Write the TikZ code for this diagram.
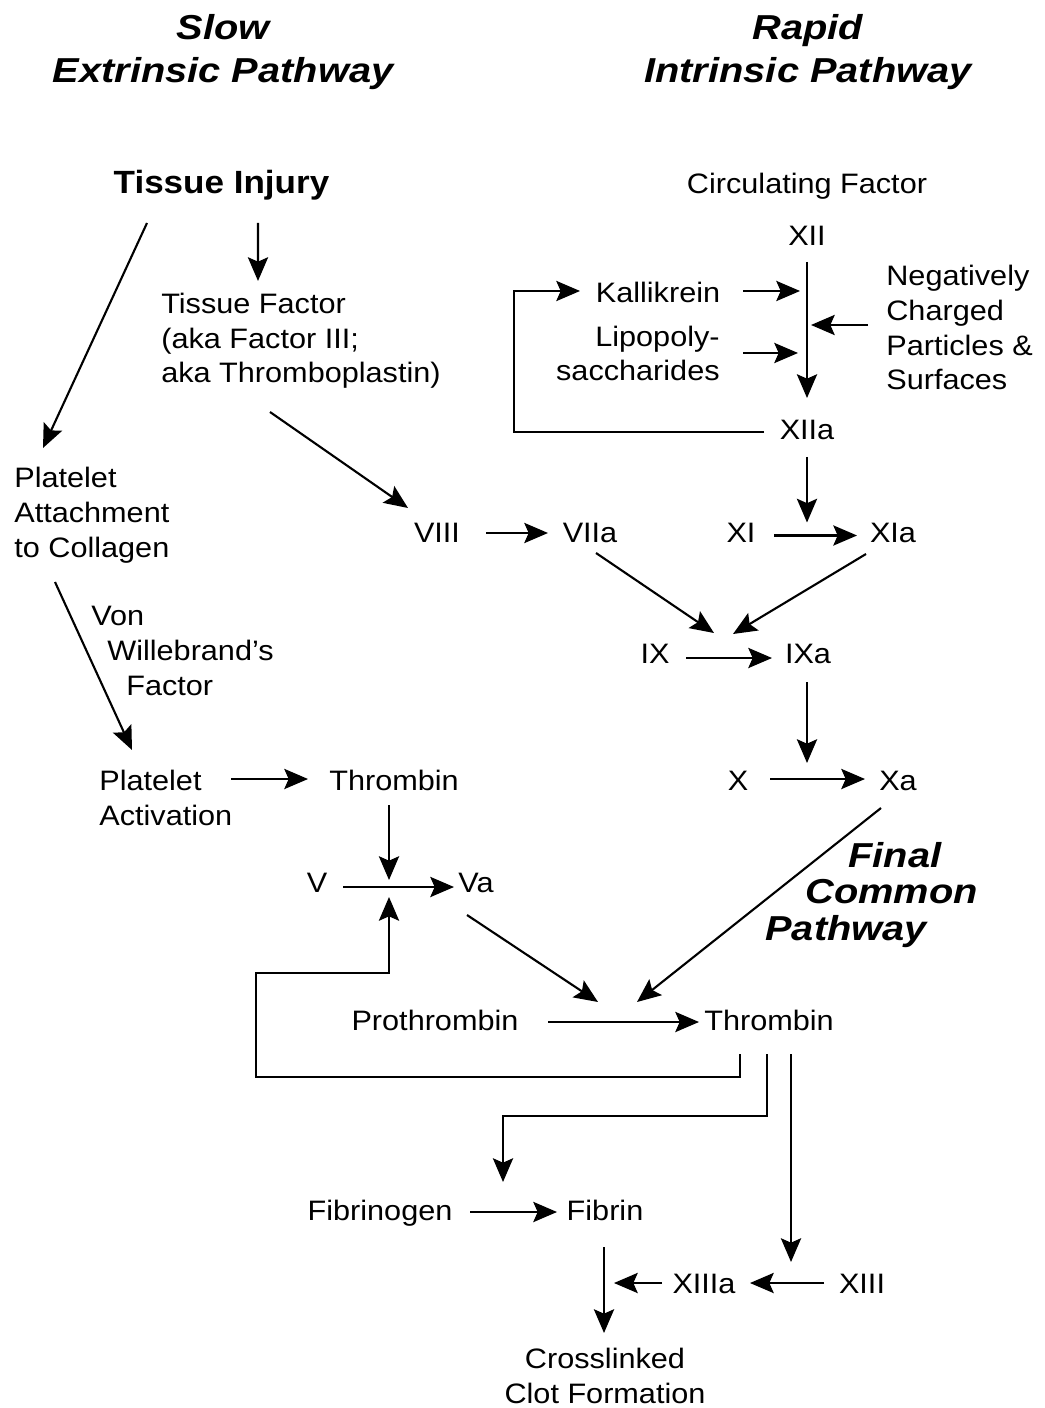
\documentclass[tikz,border=0pt]{standalone}
\usepackage{fontspec}
\setmainfont{Liberation Sans}[FakeStretch=1.09]
\newfontfamily\ttlfam{Liberation Sans}[FakeStretch=1.15]
\usetikzlibrary{arrows.meta}
\usetikzlibrary{calc}

\begin{document}
\begin{tikzpicture}
	[x=0.02cm, y=-0.02cm,
	txt/.style={inner sep=0pt, font=\fontsize{16}{19.85}\selectfont},
	lbl/.style={txt, text height=11.5pt, text depth=0pt},
	blk/.style={txt, align=left, anchor=base west},
	ttl/.style={inner sep=0pt, align=center, anchor=base, font=\ttlfam\bfseries\itshape\fontsize{19.7}{25}\selectfont},
	arr/.style={-{Stealth[length=13.5pt, width=11.5pt, inset=2.5pt]}, line width=1.2pt}]

	\useasboundingbox (0,0) rectangle (1044,1408);

	%Titles (base = last line)
	\node[ttl] (slow) at (223,83) {Slow\\Extrinsic Pathway};
	\node[ttl] (rapid) at (808,83) {Rapid\\Intrinsic Pathway};

	%Extrinsic
	\node[lbl, text height=13.1pt, font=\bfseries\fontsize{18.3}{22}\selectfont] (inj) at (221.5,181.5) {Tissue Injury};
	\node[blk] (tf) at (161,383) {Tissue Factor\\(aka Factor III;\\aka Thromboplastin)};
	\node[blk] (pac) at (14,557) {Platelet\\Attachment\\to Collagen};
	\node[blk] (vwf) at (91,695) {Von\\\hspace*{0.32cm}Willebrand’s\\\hspace*{0.7cm}Factor};
	\node[blk] (pact) at (99,825) {Platelet\\Activation};
	\node[lbl] (thr) at (394,780) {Thrombin};
	\node[lbl] (fv) at (317,882) {V};
	\node[lbl] (fva) at (476,882) {Va};

	%Intrinsic
	\node[lbl] (circ) at (807,183) {Circulating Factor};
	\node[lbl] (xii) at (807,235.5) {XII};
	\node[lbl] (kal) at (658,292) {Kallikrein};
	\node[blk, align=right, anchor=base east] (lps) at (720,381) {Lipopoly-\\saccharides};
	\node[blk] (neg) at (886,390) {Negatively\\Charged\\Particles \&\\Surfaces};
	\node[lbl] (xiia) at (807,429) {XIIa};
	\node[lbl] (viii) at (437,532.5) {VIII};
	\node[lbl] (viia) at (590,532.5) {VIIa};
	\node[lbl] (xi) at (741,532.5) {XI};
	\node[lbl] (xia) at (893,532.5) {XIa};
	\node[lbl] (ix) at (655,653) {IX};
	\node[lbl] (ixa) at (808,653) {IXa};
	\node[lbl] (fx) at (738,780) {X};
	\node[lbl] (fxa) at (898,780) {Xa};

	%Final common
	\node[ttl, anchor=base west, align=left, font=\ttlfam\bfseries\itshape\fontsize{19.7}{20.7}\selectfont] (fcp) at (765,940) {\hspace*{1.66cm}Final\\\hspace*{0.8cm}Common\\Pathway};
	\node[lbl] (pro) at (435,1020) {Prothrombin};
	\node[lbl] (thrb) at (769,1020) {Thrombin};
	\node[lbl] (fgn) at (380,1210) {Fibrinogen};
	\node[lbl] (fib) at (605,1210) {Fibrin};
	\node[lbl] (xiiia) at (704,1283) {XIIIa};
	\node[lbl] (xiii) at (862,1283) {XIII};
	\node[txt, align=center, anchor=base] (clot) at (605,1403) {Crosslinked\\Clot Formation};

	%Extrinsic arrows
	\draw[arr] ($(inj)+(-74.5,41.5)$) -- ($(pac.base west)+(29,-109)$);
	\draw[arr] ($(inj)+(36.5,41.5)$) -- ($(tf.base west)+(97,-102)$);
	\draw[arr] ($(tf.base west)+(109,29)$) -- ($(viii)+(-29,-24.5)$);
	\draw[arr] ($(pac.base west)+(41,25)$) -- ($(pact.base west)+(33,-75)$);
	\draw[arr] ($(pact.base west)+(132,-46)$) -- ($(thr)+(-86,-1)$);
	\draw[arr] ($(thr)+(-5,25)$) -- ($(thr |- fv)+(-5,-2)$);
	\draw[arr] ($(fv)+(26,5)$) -- ($(fva)+(-22,5)$);

	%Intrinsic arrows
	\draw[arr] ($(xii)+(0,26.5)$) -- ($(xiia)+(0,-31)$);
	\draw[arr] ($(kal)+(85,-1)$) -- ($(kal -| xii)+(-7,-1)$);
	\draw[arr] ($(lps.base east)+(23,-28)$) -- ($(lps.base east -| xii)+(-9,-28)$);
	\draw[arr] ($(neg.base west)+(-18,-65)$) -- ($(neg.base west -| xii)+(4,-65)$);
	\draw[arr] ($(xiia)+(-43,3)$) -| ($(kal)+(-144,-1)$) -- ($(kal)+(-78,-1)$);
	\draw[arr] ($(xiia)+(0,28)$) -- ($(xiia |- xi)+(0,-10)$);
	\draw[arr] ($(xi)+(33,3)$) -- ($(xia)+(-36,3)$);
	\draw[arr] ($(viii)+(49,0.5)$) -- ($(viia)+(-42,0.5)$);
	\draw[arr] ($(viia)+(6,20.5)$) -- ($(ix)+(59,-20)$);
	\draw[arr] ($(xia)+(-27,21.5)$) -- ($(ixa)+(-75,-19)$);
	\draw[arr] ($(ix)+(31,5)$) -- ($(ixa)+(-36,5)$);
	\draw[arr] ($(ixa)+(-1,29)$) -- ($(ixa |- fx)+(-1,-17)$);
	\draw[arr] ($(fx)+(32,-1)$) -- ($(fxa)+(-33,-1)$);

	%Common arrows
	\draw[arr] ($(fxa)+(-17,28)$) -- ($(thrb)+(-132,-18)$);
	\draw[arr] ($(fva)+(-9,33)$) -- ($(thrb)+(-171,-18)$);
	\draw[arr] ($(pro)+(113,2)$) -- ($(thrb)+(-70,2)$);
	\draw[arr] ($(thrb)+(-29,34)$) -- ++(0,23) -| ($(fv)+(-61,91)$) -| ($(thr |- fv)+(-5,15)$);
	\draw[arr] ($(thrb)+(-2,34)$) -- ++(0,62) -| ($(fgn)+(123,-28)$);
	\draw[arr] ($(thrb)+(22,34)$) -- ($(xiii)+(-71,-21)$);
	\draw[arr] ($(fgn)+(90,2)$) -- ($(fib)+(-48,2)$);
	\draw[arr] ($(fib)+(-1,37)$) -- ($(clot.base)+(-1,-70)$);
	\draw[arr] ($(xiii)+(-38,0)$) -- ($(xiiia)+(46,0)$);
	\draw[arr] ($(xiiia)+(-42,0)$) -- ($(fib |- xiiia)+(9,0)$);
\end{tikzpicture}
\end{document}
